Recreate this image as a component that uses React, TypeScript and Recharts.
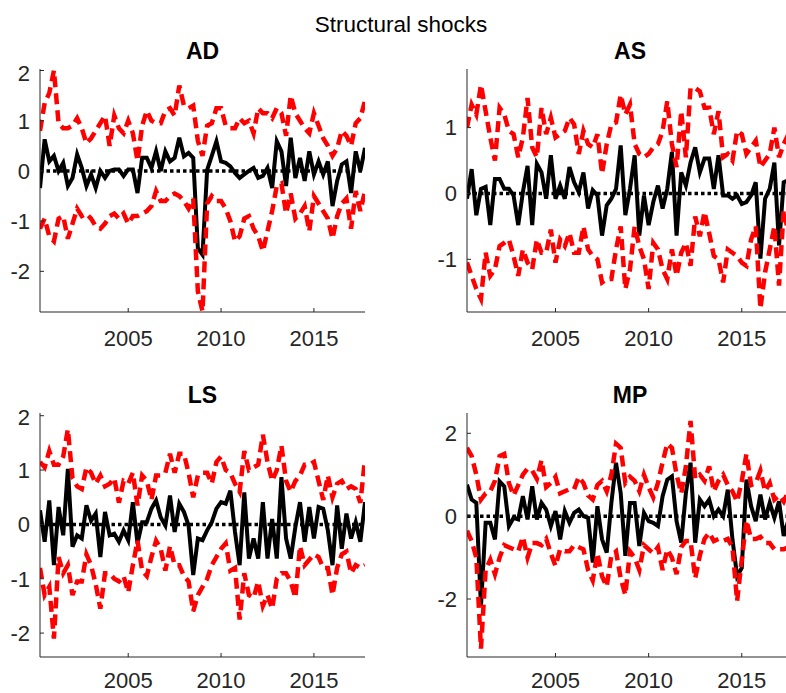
import React from "react";
import { LineChart, Line, XAxis, YAxis, ReferenceLine } from "recharts";

// quarterly observations, 2000Q2 .. 2017Q4
const QUARTERS = Array.from({ length: 71 }, (_, i) => 2000.25 + i * 0.25);
const YEAR_TICKS = [2005, 2010, 2015];

const AD_MEDIAN = [
  -0.34, 0.63, 0.19, 0.3, 0, 0.16, -0.3, -0.14, 0.33, 0.06, -0.3, -0.07, -0.34, 0, -0.14, 0, 0.03, 0.03,
  -0.1, 0.03, 0.03, -0.44, 0.26, 0.26, 0.06, 0.39, 0, 0.39, 0.19, 0.26, 0.66, 0.29, 0.36, 0.26, -1.54,
  -1.67, 0.02, 0.3, 0.59, 0.19, 0.16, 0.09, -0.04, -0.14, -0.07, 0, 0.06, -0.14, -0.1, 0.06, -0.34, 0.59,
  0.39, -0.3, 0.66, -0.14, 0.26, -0.2, 0.39, -0.07, 0.19, -0.07, 0.19, -0.7, -0.2, 0.13, 0.19, -0.44,
  0.39, 0, 0.46,
];
const AD_UPPER = [
  0.8, 1.35, 1.55, 2.0, 0.95, 0.85, 0.85, 0.9, 1.05, 0.85, 0.55, 0.65, 0.8, 0.95, 1.1, 0.5, 1.1, 0.85,
  0.75, 1.0, 0.75, 0.2, 0.9, 1.2, 1.0, 0.95, 0.95, 1.2, 1.25, 1.1, 1.7, 1.3, 1.25, 1.3, 0.6, 0.3, 0.9,
  0.95, 1.25, 1.25, 0.9, 0.85, 0.85, 1.05, 0.95, 1.0, 0.75, 1.25, 1.15, 1.15, 1.05, 1.25, 1.15, 0.7, 1.5,
  1.15, 1.0, 0.85, 0.75, 1.15, 0.9, 0.65, 0.5, 0.3, 0.45, 0.8, 0.7, 0.5, 0.95, 1.05, 1.4,
];
const AD_LOWER = [
  -1.15, -0.95, -1.3, -1.4, -0.95, -0.9, -1.35, -1.05, -0.75, -0.9, -0.85, -0.95, -1.1, -1.15, -1.05,
  -0.9, -0.85, -0.95, -0.85, -1.05, -0.9, -0.9, -0.85, -0.8, -0.7, -0.4, -0.6, -0.6, -0.5, -0.45, -0.5,
  -0.6, -0.75, -0.55, -2.4, -2.8, -0.65, -0.5, -0.6, -0.6, -0.75, -1.0, -1.4, -1.3, -0.95, -0.9, -1.15,
  -1.3, -1.6, -1.2, -0.8, -0.3, -0.25, -0.85, -0.45, -0.95, -0.85, -0.7, -1.2, -0.5, -0.65, -0.8, -0.95,
  -1.35, -0.9, -0.65, -0.55, -1.15, -0.4, -0.8, -0.4,
];

const AS_MEDIAN = [
  -0.08, 0.37, -0.33, 0.07, 0.1, -0.48, 0.22, 0.22, 0.07, 0.07, -0.03, -0.48, 0.02, 0.42, -0.48, 0.45,
  0.32, -0.08, 0.58, -0.08, 0.12, -0.08, 0.4, 0.17, 0.02, 0.32, -0.23, 0.05, -0.03, -0.64, -0.18, -0.08,
  0.07, 0.73, -0.33, 0.07, 0.58, -0.64, -0.03, -0.48, -0.13, 0.12, -0.23, 0.07, 0.63, -0.64, 0.32, 0.12,
  0.47, 0.7, 0.32, 0.53, 0.53, 0.07, 0.58, -0.03, -0.03, -0.08, -0.03, -0.16, -0.13, -0.03, 0.17, -0.99,
  -0.08, 0.07, 0.47, -0.79, 0.17, 0.2, -0.1,
];
const AS_UPPER = [
  1.0, 1.35, 1.2, 1.65, 1.25, 0.85, 0.5, 1.3, 1.2, 0.95, 0.9, 0.55, 0.85, 1.45, 0.7, 0.55, 1.3, 0.9,
  1.15, 0.85, 0.9, 0.95, 1.15, 1.05, 0.6, 0.95, 0.75, 0.7, 0.9, 0.3, 0.75, 1.05, 1.08, 1.5, 1.2, 1.35,
  0.75, 0.6, 0.55, 0.6, 0.7, 0.75, 0.95, 1.4, 0.75, 0.4, 1.25, 0.55, 1.6, 1.6, 1.55, 1.3, 1.3, 0.9, 1.25,
  0.55, 0.6, 0.5, 0.95, 0.9, 0.6, 0.7, 0.8, 0.4, 0.5, 0.6, 1.0, 0.55, 0.75, 0.9, 1.4,
];
const AS_LOWER = [
  -1.05, -1.25, -1.45, -1.6, -0.9, -1.25, -1.15, -0.8, -0.75, -0.7, -0.95, -1.25, -0.85, -1.05, -1.15,
  -0.7, -0.9, -0.9, -0.55, -1.05, -0.7, -0.8, -0.6, -0.9, -0.9, -0.5, -0.85, -0.95, -1.0, -1.35, -1.3,
  -1.3, -0.85, -0.5, -1.45, -1.15, -0.5, -0.8, -1.0, -1.45, -0.75, -0.85, -1.15, -1.3, -0.85, -1.25, -0.9,
  -0.75, -1.1, -0.35, -0.65, -0.28, -0.6, -0.95, -1.0, -1.35, -0.85, -0.9, -0.95, -1.05, -1.1, -0.7, -0.5,
  -1.75, -1.2, -0.85, -0.5, -1.4, -0.25, -0.6, -0.9,
];

const LS_MEDIAN = [
  0.26, -0.32, 0.44, -0.75, 0.32, -0.2, 1.02, -0.41, -0.2, -0.26, 0.35, 0.07, 0.2, -0.6, 0.23, -0.2,
  -0.17, -0.32, -0.11, -0.29, 0.41, -0.35, 0.04, 0.04, 0.29, 0.44, 0.13, -0.02, 0.53, -0.14, 0.38, 0.23,
  -0.02, -0.93, -0.26, -0.29, -0.11, 0.04, 0.29, 0.41, 0.38, 0.62, -0.14, -0.75, 0.59, -0.63, -0.26,
  -0.63, 0.41, -0.63, 0.1, -0.63, 0.87, -0.26, -0.63, -0.05, 0.41, -0.32, 0.32, -0.26, 0.32, 0.29, -0.11,
  -0.75, 0.35, -0.45, 0.2, -0.26, 0.04, -0.32, 0.41,
];
const LS_UPPER = [
  1.15, 1.05, 1.35, 1.1, 1.1, 1.25, 1.75, 0.85, 0.7, 0.65, 1.05, 0.95, 0.75, 0.9, 0.7, 0.75, 0.85, 0.4,
  0.8, 0.75, 0.95, 0.35, 0.9, 0.8, 0.45, 0.9, 0.9, 0.95, 1.3, 0.95, 1.3, 1.3, 0.95, 0.5, 0.9, 0.95, 0.95,
  0.75, 1.15, 1.25, 1.0, 0.95, 0.75, 0.6, 1.35, 1.0, 1.05, 1.1, 1.65, 1.15, 0.8, 1.0, 1.45, 0.8, 0.6, 0.8,
  0.9, 1.1, 1.1, 1.15, 0.8, 0.45, 0.9, 0.5, 0.75, 0.8, 0.65, 0.7, 0.65, 0.4, 1.2,
];
const LS_LOWER = [
  -0.8, -1.3, -1.15, -2.1, -0.6, -0.9, -0.75, -1.3, -1.05, -1.05, -0.55, -0.75, -1.1, -1.55, -0.9, -0.9,
  -1.0, -1.05, -0.95, -1.25, -0.75, -0.3, -0.85, -0.95, -0.6, -0.3, -0.45, -0.85, -0.4, -0.75, -0.75,
  -0.95, -1.05, -1.6, -1.3, -1.15, -1.0, -0.75, -0.6, -0.45, -0.35, -0.85, -0.8, -1.75, -0.9, -1.3, -1.35,
  -1.05, -1.5, -1.3, -1.55, -1.0, -0.9, -0.9, -1.05, -1.35, -0.4, -0.75, -0.65, -0.55, -0.6, -0.8, -0.8,
  -1.3, -0.8, -0.55, -0.5, -0.9, -0.75, -0.8, -0.75,
];

const MP_MEDIAN = [
  0.76, 0.4, 0.32, -2.17, -0.16, -0.16, -0.56, 0.84, 0.72, -0.24, -0.04, -0.08, 0.48, -0.08, 0.72, -0.08,
  0.32, 0.16, -0.24, 0.12, -0.56, 0.12, -0.16, 0.08, 0.16, 0, -0.04, -1.12, 0.24, -0.56, -0.88, 0.32,
  1.29, 0.56, -0.96, 0.32, 0.32, -0.72, 0.08, -0.12, -0.16, -0.24, 0.48, 0.88, 0.96, -0.12, -0.64, 0.56,
  1.29, -0.64, 0.4, 0.24, 0.4, 0, 0.16, 0, 0.64, -0.56, -1.45, -1.25, 0.88, 0.24, -0.12, 0.52, -0.08, 0.32,
  -0.04, 0.36, -0.48, -0.1, -0.4,
];
const MP_UPPER = [
  1.65, 1.45, 1.0, 0.4, 0.55, 0.6, 0.85, 1.45, 1.5, 0.8, 0.5, 0.75, 1.0, 1.15, 1.1, 0.9, 1.35, 0.7, 0.8,
  0.95, 0.55, 0.6, 0.65, 0.65, 0.95, 0.8, 0.5, 0.4, 0.75, 0.85, 0.6, 1.0, 1.75, 1.65, 0.8, 0.95, 0.85,
  0.6, 1.0, 0.7, 0.45, 0.8, 1.3, 1.75, 1.65, 1.0, 0.55, 1.2, 2.3, 0.9, 1.0, 0.85, 1.2, 0.6, 0.85, 1.0,
  0.75, 0.6, 0.35, 0.85, 1.5, 0.75, 0.8, 1.1, 0.6, 0.8, 0.4, 0.5, 0.35, 0.6, 0.4,
];
const MP_LOWER = [
  -0.35, -0.6, -1.0, -3.2, -1.3, -1.05, -1.4, -1.0, -0.7, -0.75, -0.8, -0.85, -0.5, -1.0, -0.65, -0.65,
  -0.7, -0.55, -0.9, -1.2, -0.8, -0.85, -0.85, -0.7, -0.75, -0.8, -1.3, -1.55, -0.9, -1.45, -1.7, -0.95,
  -0.85, -1.5, -1.9, -0.85, -1.0, -1.3, -0.7, -0.8, -0.9, -0.75, -1.3, -0.8, -1.0, -1.4, -0.75, -0.6,
  -0.6, -1.5, -0.95, -0.55, -0.4, -0.6, -0.55, -0.6, -0.55, -0.75, -2.05, -1.05, -0.1, -0.55, -0.55, -0.5,
  -0.65, -0.65, -0.8, -0.8, -0.8, -0.75, -0.95,
];

const FONT = "'Liberation Sans', Arial, Helvetica, sans-serif";
const AXIS_COLOR = "#262626";

type PanelProps = {
  title: string;
  median: number[];
  upper: number[];
  lower: number[];
  yDomain: [number, number];
  yTicks: number[];
  left: number;
  top: number;
  width: number;
  height: number;
  xAxisHeight?: number;
  xTickGap?: number;
};

function Panel({
  title,
  median,
  upper,
  lower,
  yDomain,
  yTicks,
  left,
  top,
  width,
  height,
  xAxisHeight = 40,
  xTickGap = 22,
}: PanelProps) {
  const rows = QUARTERS.map((q, i) => ({ q, med: median[i], up: upper[i], lo: lower[i] }));
  const plotCenter = left + 40 + (width - 40) / 2;
  const tickStyle = { fontSize: 22, fill: AXIS_COLOR, fontFamily: FONT };

  return (
    <>
      <div
        style={{
          position: "absolute",
          left: plotCenter - 60,
          top: top - 22,
          width: 120,
          textAlign: "center",
          fontFamily: FONT,
          fontWeight: "bold",
          fontSize: 23,
          color: "#000",
          lineHeight: "26px",
        }}
      >
        {title}
      </div>
      <div style={{ position: "absolute", left, top }}>
        <LineChart width={width} height={height} data={rows} margin={{ top: 9, right: 0, bottom: 0, left: 0 }}>
          <XAxis
            dataKey="q"
            type="number"
            domain={[2000.25, 2017.75]}
            ticks={YEAR_TICKS}
            allowDataOverflow
            height={xAxisHeight}
            tickSize={-4}
            tickMargin={xTickGap}
            axisLine={{ stroke: AXIS_COLOR }}
            tickLine={{ stroke: AXIS_COLOR }}
            tick={tickStyle}
          />
          <YAxis
            type="number"
            domain={yDomain}
            ticks={yTicks}
            allowDataOverflow
            width={40}
            tickSize={-4}
            tickMargin={14}
            axisLine={{ stroke: AXIS_COLOR }}
            tickLine={{ stroke: AXIS_COLOR }}
            tick={tickStyle}
          />
          <Line
            dataKey="med"
            stroke="#000"
            strokeWidth={4}
            dot={false}
            type="linear"
            isAnimationActive={false}
          />
          <ReferenceLine y={0} stroke="#000" strokeWidth={3.5} strokeDasharray="3.5 3" />
          <Line
            dataKey="up"
            stroke="#ff0000"
            strokeWidth={4.5}
            strokeDasharray="11 6"
            dot={false}
            type="linear"
            isAnimationActive={false}
          />
          <Line
            dataKey="lo"
            stroke="#ff0000"
            strokeWidth={4.5}
            strokeDasharray="11 6"
            dot={false}
            type="linear"
            isAnimationActive={false}
          />
        </LineChart>
      </div>
    </>
  );
}

export default function App() {
  return (
    <div
      style={{
        position: "absolute",
        left: 0,
        top: 0,
        width: 786,
        height: 693,
        overflow: "hidden",
        background: "#fff",
      }}
    >
      <div
        style={{
          position: "absolute",
          left: 301,
          top: 12,
          width: 200,
          textAlign: "center",
          fontFamily: FONT,
          fontSize: 22.5,
          color: "#000",
          lineHeight: "26px",
        }}
      >
        Structural shocks
      </div>
      <Panel
        title="AD"
        median={AD_MEDIAN}
        upper={AD_UPPER}
        lower={AD_LOWER}
        yDomain={[-2.81, 2.03]}
        yTicks={[-2, -1, 0, 1, 2]}
        left={0}
        top={60}
        width={365}
        height={292}
      />
      <Panel
        title="AS"
        median={AS_MEDIAN}
        upper={AS_UPPER}
        lower={AS_LOWER}
        yDomain={[-1.8, 1.89]}
        yTicks={[-1, 0, 1]}
        left={427}
        top={60}
        width={366}
        height={292}
      />
      <Panel
        title="LS"
        median={LS_MEDIAN}
        upper={LS_UPPER}
        lower={LS_LOWER}
        yDomain={[-2.44, 2.05]}
        yTicks={[-2, -1, 0, 1, 2]}
        left={0}
        top={404}
        width={365}
        height={289}
        xAxisHeight={36}
        xTickGap={19}
      />
      <Panel
        title="MP"
        median={MP_MEDIAN}
        upper={MP_UPPER}
        lower={MP_LOWER}
        yDomain={[-3.4, 2.49]}
        yTicks={[-2, 0, 2]}
        left={427}
        top={404}
        width={366}
        height={289}
        xAxisHeight={36}
        xTickGap={19}
      />
    </div>
  );
}
